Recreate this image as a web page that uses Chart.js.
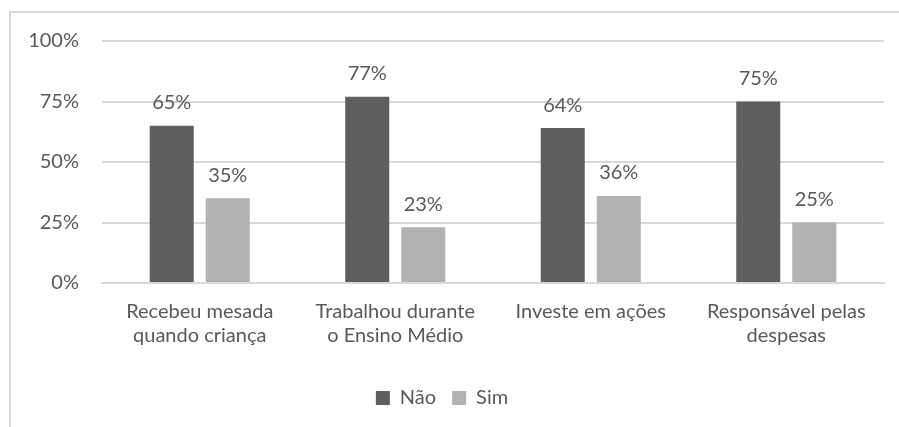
<!DOCTYPE html>
<html>
<head>
<meta charset="utf-8">
<script src="https://cdn.jsdelivr.net/npm/chart.js@4"></script>
<style>
  html, body { margin: 0; padding: 0; background: #fff; }
  #wrap { width: 899px; height: 427px; position: relative; }
</style>
</head>
<body>
<div id="wrap"><canvas id="chart" width="899" height="427"></canvas></div>
<script>
// Categories and series values
const categories = [
  ['Recebeu mesada', 'quando criança'],
  ['Trabalhou durante', 'o Ensino Médio'],
  ['Investe em ações'],
  ['Responsável pelas', 'despesas']
];
const naoValues = [65, 77, 64, 75];
const simValues = [35, 23, 36, 25];
const yTicks = [0, 25, 50, 75, 100];

const textColor = '#595959';
const fontFamily = 'Lato, "Open Sans", sans-serif';
const fontSize = 20;

// Draws the outer chart border (only top and left are visible in the frame)
const borderPlugin = {
  id: 'border',
  beforeDraw(chart) {
    const ctx = chart.ctx;
    ctx.save();
    ctx.strokeStyle = '#d9d9d9';
    ctx.lineWidth = 2;
    ctx.strokeRect(10, 12, 1000, 1000);
    ctx.restore();
  }
};

// Value labels above each bar
const valueLabels = {
  id: 'valueLabels',
  afterDatasetsDraw(chart) {
    const ctx = chart.ctx;
    ctx.save();
    ctx.fillStyle = textColor;
    ctx.font = fontSize + 'px ' + fontFamily;
    ctx.textAlign = 'center';
    ctx.textBaseline = 'bottom';
    chart.data.datasets.forEach((ds, i) => {
      chart.getDatasetMeta(i).data.forEach((bar, j) => {
        ctx.fillText(ds.data[j] + '%', bar.x, bar.y - 13);
      });
    });
    ctx.restore();
  }
};

new Chart(document.getElementById('chart'), {
  type: 'bar',
  data: {
    labels: categories,
    datasets: [{
      label: 'Não',
      data: naoValues,
      backgroundColor: '#5f5f5f',
      categoryPercentage: 0.573,
      barPercentage: 0.786
    }, {
      label: 'Sim',
      data: simValues,
      backgroundColor: '#b2b2b2',
      categoryPercentage: 0.573,
      barPercentage: 0.786
    }]
  },
  options: {
    responsive: false,
    animation: false,
    layout: { padding: { top: 41, right: 15, left: 0, bottom: 9 } },
    plugins: {
      tooltip: { enabled: false },
      legend: {
        position: 'bottom',
        labels: {
          color: textColor,
          font: { family: fontFamily, size: fontSize },
          boxWidth: 14,
          boxHeight: 14,
          padding: 16
        }
      }
    },
    scales: {
      x: {
        grid: { display: false },
        border: { display: true, color: '#d9d9d9', width: 2 },
        ticks: {
          color: textColor,
          font: { family: fontFamily, size: fontSize, lineHeight: 1.2 },
          padding: 9,
          maxRotation: 0,
          autoSkip: false
        },
        afterFit(scale) { scale.height = 89; }
      },
      y: {
        min: 0,
        max: 100,
        afterBuildTicks(scale) { scale.ticks = yTicks.map(v => ({ value: v })); },
        grid: { color: '#d9d9d9', lineWidth: 2, drawTicks: false },
        border: { display: false },
        ticks: {
          color: textColor,
          font: { family: fontFamily, size: fontSize },
          padding: 23,
          callback: v => v + '%'
        },
        afterFit(scale) { scale.width = 102; }
      }
    }
  },
  plugins: [borderPlugin, valueLabels]
});
</script>
</body>
</html>
